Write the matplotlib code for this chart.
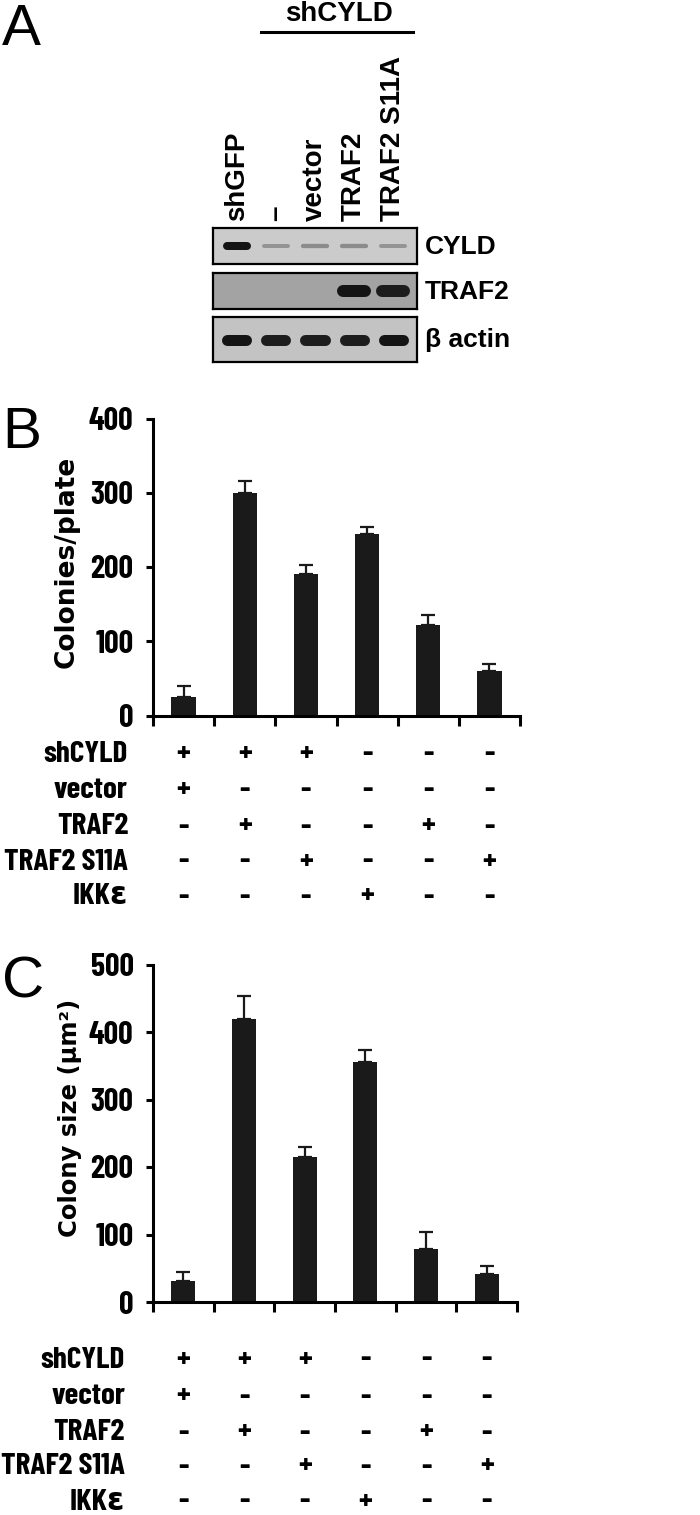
import numpy as np
import matplotlib
matplotlib.use('Agg')
import matplotlib.pyplot as plt
import matplotlib.transforms as mtransforms
from matplotlib import font_manager as fm

# ---- data ----
lanes = ['shGFP', '–', 'vector', 'TRAF2', 'TRAF2 S11A']
blot_names = ['CYLD', 'TRAF2', 'β actin']
cyld_band = [1.0, 0.3, 0.35, 0.35, 0.3]
traf2_band = [0.0, 0.0, 0.0, 1.0, 0.95]
actin_band = [1.0, 0.95, 0.95, 0.95, 1.0]

row_names = ['shCYLD', 'vector', 'TRAF2', 'TRAF2 S11A', 'IKKε']
design = [['+', '+', '+', '-', '-', '-'],
          ['+', '-', '-', '-', '-', '-'],
          ['-', '+', '-', '-', '+', '-'],
          ['-', '-', '+', '-', '-', '+'],
          ['-', '-', '-', '+', '-', '-']]

colonies = [25, 300, 190, 245, 122, 60]
colonies_err = [15, 16, 13, 9, 14, 10]
size = [31, 419, 215, 355, 79, 41]
size_err = [13, 35, 15, 18, 25, 12]

W, H = 700, 1515
BOLD = ['Liberation Sans', 'DejaVu Sans']
WIDE = ['DejaVu Sans']

# narrow bold face for ticks and the +/- tables (Arial Narrow look)
have = {f.name for f in fm.fontManager.ttflist}
NARROW, NSIZE, RSIZE = ['Liberation Sans', 'DejaVu Sans'], 15, 15
for cand, s1, s2 in [('Barlow Condensed', 23, 22.5), ('Encode Sans Condensed', 20, 18)]:
    if cand in have:
        NARROW, NSIZE, RSIZE = [cand, 'DejaVu Sans'], s1, s2
        break

fig = plt.figure(figsize=(W / 100, H / 100), dpi=100)


def box(x0, y0, x1, y1):
    # pixel box (top-left origin) -> figure fraction rect
    return [x0 / W, 1 - y1 / H, (x1 - x0) / W, (y1 - y0) / H]


def ftext(x, y, s, **kw):
    fig.text(x / W, 1 - y / H, s, **kw)


# ---- panel A: western blot ----
ftext(2, 45, 'A', fontsize=42, family=['Liberation Sans', 'DejaVu Sans'], va='baseline')
ftext(339, 14, 'shCYLD', fontsize=20, family=BOLD, weight='bold', ha='center', va='center')
fig.add_artist(plt.Line2D([261 / W, 413 / W], [1 - 32 / H, 1 - 32 / H], color='black', lw=2.2))

strips = [(228, 264, '#cbcbcb', cyld_band, 8, 4, 28),
          (273, 309, '#a3a3a3', traf2_band, 12, 12, 34),
          (317, 362, '#c3c3c3', actin_band, 11, 11, 30)]
lane_x = np.arange(len(lanes))
for (y0, y1, bg, band, hmax, hmin, bw), name in zip(strips, blot_names):
    ax = fig.add_axes(box(213, y0, 417, y1))
    ax.set_facecolor(bg)
    ax.set_xlim(-0.615, 4.615)
    ax.set_ylim(0, 1)
    ax.set_xticks([])
    ax.set_yticks([])
    for sp in ax.spines.values():
        sp.set_linewidth(1.6)
    bgc = np.array(matplotlib.colors.to_rgb(bg))
    dark = np.array([0.08, 0.08, 0.08])
    for lx, v in zip(lane_x, band):
        if v <= 0:
            continue
        c = bgc * (1 - v) + dark * v
        h = hmin + (hmax - hmin) * (v - 0.3) / 0.7 if hmax != hmin else hmax
        half = (bw - h) / 2 / 39.0
        ax.plot([lx - half, lx + half], [0.5, 0.5], color=c, lw=h * 0.72,
                solid_capstyle='round')
    ftext(425, (y0 + y1) / 2 + 1, name, fontsize=19, family=BOLD, weight='bold', va='center')

for i, lab in enumerate(lanes):
    ftext(237 + i * 39, 221, lab, fontsize=20, family=BOLD, weight='bold',
          rotation=90, ha='center', va='bottom')


# ---- bar panels ----
def bar_panel(letter, ybox, xr, vals, errs, ymax, ylabel, ylab_size, ylab_xy, rows_y, letter_y, lab_right):
    ax = fig.add_axes(box(153, ybox[0], xr, ybox[1]))
    x = np.arange(len(vals)) + 0.5
    ax.bar(x, vals, width=0.4, color='#1a1a1a', zorder=2)
    ax.errorbar(x, vals, yerr=[np.zeros(len(errs)), errs], fmt='none', ecolor='#1a1a1a',
                elinewidth=1.6, capsize=5, capthick=1.6, zorder=1)
    ax.set_xlim(0, len(vals))
    ax.set_ylim(0, ymax)
    ax.set_yticks(np.arange(0, ymax + 1, 100))
    ax.set_xticks(np.arange(0, len(vals) + 1))
    ax.set_xticklabels([])
    ax.spines['top'].set_visible(False)
    ax.spines['right'].set_visible(False)
    ax.spines['left'].set_linewidth(2.2)
    ax.spines['bottom'].set_linewidth(2.2)
    ax.tick_params(axis='y', direction='out', length=5, width=2.2, pad=9)
    ax.tick_params(axis='x', direction='out', length=7, width=2.2)
    for t in ax.get_yticklabels():
        t.set_fontfamily(NARROW)
        t.set_fontweight('bold')
        t.set_fontsize(NSIZE)
    ax.set_facecolor('none')

    ftext(2, letter_y, letter, fontsize=42, family=['Liberation Sans', 'DejaVu Sans'], va='baseline')
    ftext(ylab_xy[0], ylab_xy[1], ylabel, fontsize=ylab_size, family=WIDE, weight='bold',
          rotation=90, ha='center', va='center')

    tr = mtransforms.blended_transform_factory(ax.transData, fig.transFigure)
    for name, marks, yy in zip(row_names, design, rows_y):
        ftext(lab_right, yy, name, fontsize=RSIZE, family=NARROW, weight='bold', ha='right', va='center')
        for xi, m in zip(x, marks):
            ax.text(xi, 1 - yy / H, m, transform=tr, fontsize=RSIZE, family=NARROW,
                    weight='bold', ha='center', va='center', clip_on=False)
    return ax


bar_panel('B', (418.5, 715.5), 520, colonies, colonies_err, 400, 'Colonies/plate', 19, (67, 562),
          [755, 791, 827, 862, 897], 448, 128)
bar_panel('C', (964.5, 1302), 517, size, size_err, 500, 'Colony size (μm²)', 17.5, (70, 1118),
          [1360, 1397, 1433, 1467, 1502], 997, 125)

fig.savefig('out.png', dpi=100, facecolor='white')
